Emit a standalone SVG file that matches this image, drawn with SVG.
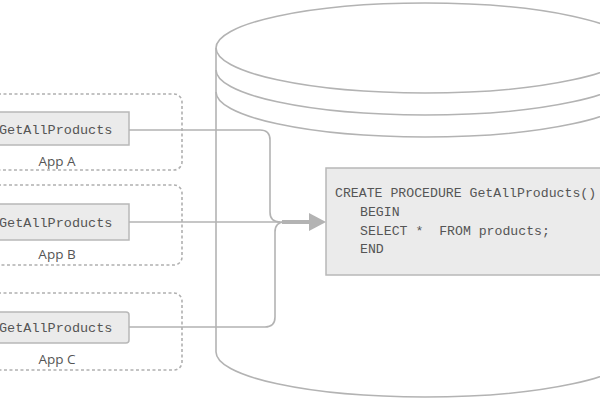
<svg xmlns="http://www.w3.org/2000/svg" width="600" height="400" viewBox="0 0 600 400">
<style>
.line{fill:none;stroke:#b3b3b3;stroke-width:1.6}
.dash{fill:none;stroke:#b0b0b0;stroke-width:1.6;stroke-dasharray:3 2.5}
.box{fill:#ebebeb;stroke:#b8b8b8;stroke-width:1.5}
.mono{font-family:"Liberation Mono","DejaVu Sans Mono",monospace;font-size:13.5px;fill:#555;white-space:pre}
.code{font-size:13.2px}
.lbl{font-family:"Open Sans","Liberation Sans",sans-serif;font-size:13.5px;fill:#555;text-anchor:middle}
</style>
<rect width="600" height="400" fill="#fff"/>
<g id="database">
<path class="line" d="M216,48 V352 A209,45 0 0 0 634,352 V48"/>
<ellipse class="line" cx="425" cy="48" rx="209" ry="45"/>
<path class="line" d="M216,70 A209,45 0 0 0 634,70"/>
<path class="line" d="M216,92 A209,45 0 0 0 634,92"/>
</g>
<g id="procedure">
<rect class="box" x="326" y="168" width="290" height="107"/>
<text class="mono code" x="335" y="197">CREATE PROCEDURE GetAllProducts()</text>
<text class="mono code" x="360" y="216">BEGIN</text>
<text class="mono code" x="360" y="235">SELECT *  FROM products;</text>
<text class="mono code" x="360" y="253">END</text>
</g>
<g id="appA">
<rect class="dash" x="-10" y="94" width="192" height="76" rx="8"/>
<rect class="box" x="-10" y="112" width="139" height="33"/>
<text class="mono" x="-1" y="133.5">GetAllProducts</text>
<text class="lbl" x="57" y="166">App A</text>
</g>
<g id="appB">
<rect class="dash" x="-10" y="185" width="192" height="80" rx="8"/>
<rect class="box" x="-10" y="204" width="139" height="36"/>
<text class="mono" x="-1" y="226.5">GetAllProducts</text>
<text class="lbl" x="57" y="259">App B</text>
</g>
<g id="appC">
<rect class="dash" x="-10" y="293" width="192" height="77" rx="8"/>
<rect class="box" x="-10" y="312" width="139" height="31" rx="3"/>
<text class="mono" x="-1" y="331.5">GetAllProducts</text>
<text class="lbl" x="57" y="364">App C</text>
</g>
<g id="connectors">
<path class="line" d="M129,130 H260 Q270,130 270,140 V212 Q270,222 280,222"/>
<path class="line" d="M129,327 H265 Q275,327 275,317 V232 Q275,222 285,222"/>
<path class="line" d="M129,222 H300"/>
<path d="M282,222 H312" stroke="#b3b3b3" stroke-width="4" fill="none"/>
<polygon points="309,213 326,222 309,231" fill="#b3b3b3"/>
</g>
</svg>
